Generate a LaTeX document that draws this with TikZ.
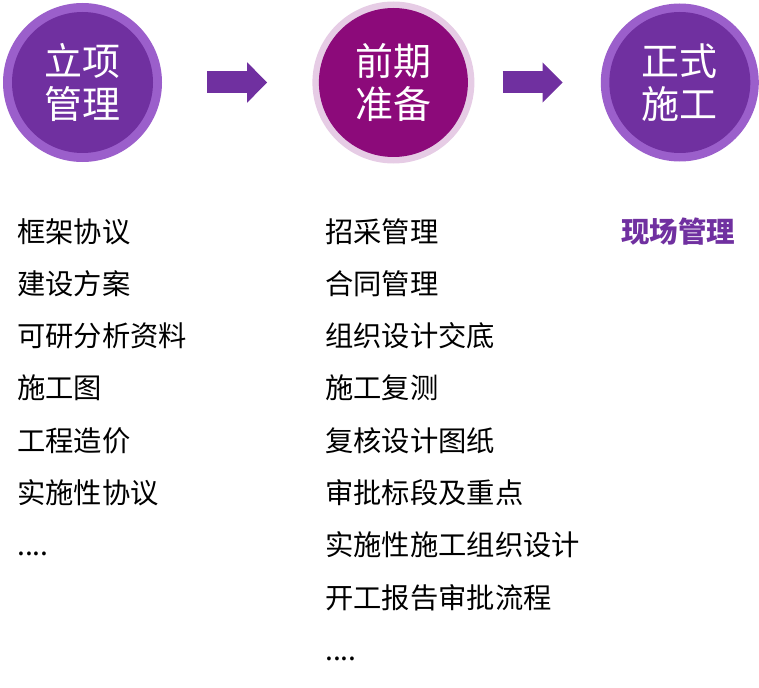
\documentclass[tikz,border=0pt]{standalone}
\usepackage{fontspec}
\setmainfont{Noto Sans CJK SC}
\usetikzlibrary{positioning, arrows.meta}
\definecolor{ringviolet}{RGB}{155,95,203}
\definecolor{coreviolet}{RGB}{112,48,160}
\definecolor{ringpink}{RGB}{230,204,229}
\definecolor{coreplum}{RGB}{140,10,122}
\begin{document}
\begin{tikzpicture}[x=1pt, y=1pt, node distance={23.9pt},
		ring/.style = {circle, inner sep=0pt},
		core/.style = {circle, inner sep=0pt, text=white, align=center, font=\fontsize{38}{43}\selectfont},
		item/.style = {inner sep=0pt, text height=21pt, text depth=7pt, font=\fontsize{28.3}{28.3}\selectfont},
		flow/.style = {draw=coreviolet, line width=22pt, -{Triangle[length=20pt, width=39pt]}}]
		\useasboundingbox (0,0) rectangle (759,-687);
		%% NODES
		% Stage circles
		\node[ring, fill=ringviolet, minimum size=159pt] (c1) at (82.5,-82.5) {};
		\node[ring, fill=ringpink, minimum size=162pt, right=150pt of c1] (c2) {};
		\node[ring, fill=ringviolet, minimum size=158pt, right=126pt of c2] (c3) {};
		\node[core, fill=coreviolet, minimum size=141pt] (c1in) at (c1) {立项\\管理};
		\node[core, fill=coreplum, minimum size=149pt] (c2in) at (c2) {前期\\准备};
		\node[core, fill=coreviolet, minimum size=141pt] (c3in) at (c3) {正式\\施工};
		% Left list
		\node[item, anchor=base west] (l1) at (17,-242) {框架协议};
		\node[item, below=of l1.south west, anchor=north west] (l2) {建设方案};
		\node[item, below=of l2.south west, anchor=north west] (l3) {可研分析资料};
		\node[item, below=of l3.south west, anchor=north west] (l4) {施工图};
		\node[item, below=of l4.south west, anchor=north west] (l5) {工程造价};
		\node[item, below=of l5.south west, anchor=north west] (l6) {实施性协议};
		\node[item, below=of l6.south west, anchor=north west] (l7) {....};
		% Middle list
		\node[item, anchor=base west] (m1) at (325,-242) {招采管理};
		\node[item, below=of m1.south west, anchor=north west] (m2) {合同管理};
		\node[item, below=of m2.south west, anchor=north west] (m3) {组织设计交底};
		\node[item, below=of m3.south west, anchor=north west] (m4) {施工复测};
		\node[item, below=of m4.south west, anchor=north west] (m5) {复核设计图纸};
		\node[item, below=of m5.south west, anchor=north west] (m6) {审批标段及重点};
		\node[item, below=of m6.south west, anchor=north west] (m7) {实施性施工组织设计};
		\node[item, below=of m7.south west, anchor=north west] (m8) {开工报告审批流程};
		\node[item, below=of m8.south west, anchor=north west] (m9) {....};
		% Right list
		\node[item, anchor=base west, text=coreviolet, font=\fontsize{28.5}{28.5}\selectfont\bfseries] (r1) at (621,-242) {现场管理};
		%% ARROWS
		\draw[flow] ([xshift=45pt]c1.east) -- ([xshift=-45pt]c2.west);
		\draw[flow] ([xshift=28pt]c2.east) -- ([xshift=-38pt]c3.west);
	\end{tikzpicture}
\end{document}
